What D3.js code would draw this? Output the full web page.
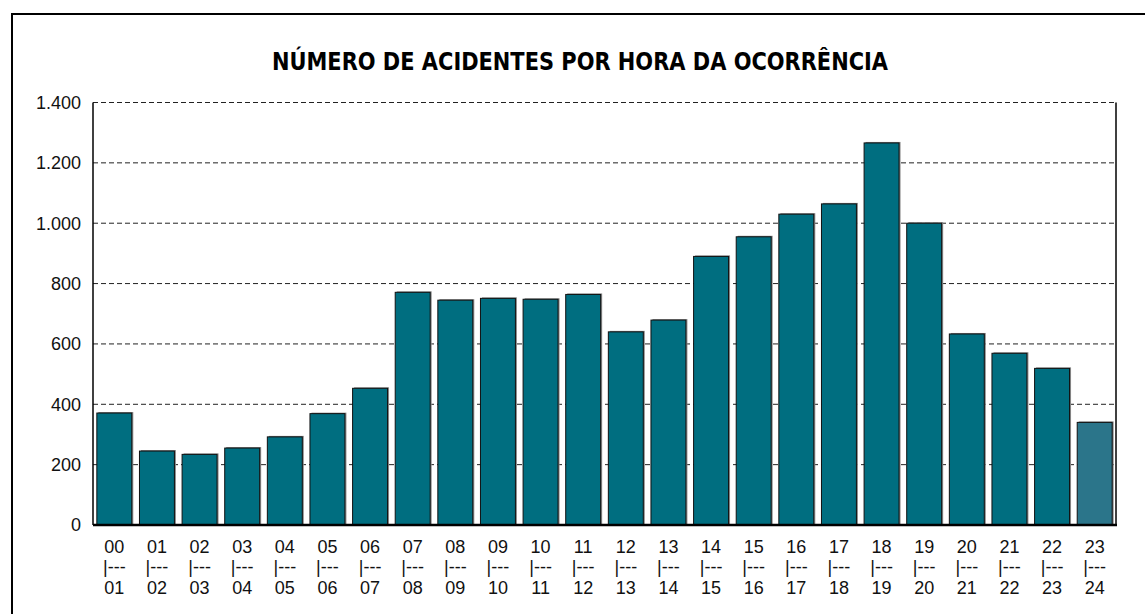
<!DOCTYPE html>
<html>
<head>
  <meta charset="UTF-8">
  <style>
    body {
      margin: 0;
      overflow: hidden;
      background-color: #fff;
      font-family: "Liberation Sans", Arial, sans-serif;
    }
    svg { display: block; }
  </style>
</head>
<body>

<svg></svg>

<script src="https://d3js.org/d3.v7.min.js"></script>

<script>
let width = 1145, height = 614;

// hour ranges and number of accidents
let hourStart = ["00","01","02","03","04","05","06","07","08","09","10","11",
                 "12","13","14","15","16","17","18","19","20","21","22","23"];
let hourEnd   = ["01","02","03","04","05","06","07","08","09","10","11","12",
                 "13","14","15","16","17","18","19","20","21","22","23","24"];
let accidents = [371, 245, 234, 255, 292, 369, 453, 771, 745, 751, 748, 764,
                 640, 679, 890, 955, 1030, 1064, 1266, 1000, 633, 569, 519, 340];
let yTicks = [0, 200, 400, 600, 800, 1000, 1200, 1400];
let title = "NÚMERO DE ACIDENTES POR HORA DA OCORRÊNCIA";

let svg = d3.select("svg")
    .attr("width", width)
    .attr("height", height);

// outer frame: only left and top edges are visible in the picture
svg.append("line")
    .attr("x1", 12).attr("x2", 12)
    .attr("y1", 13).attr("y2", height)
    .attr("stroke", "#000").attr("stroke-width", 2);
svg.append("line")
    .attr("x1", 11).attr("x2", width)
    .attr("y1", 14).attr("y2", 14)
    .attr("stroke", "#000").attr("stroke-width", 2);

let plotL = 93, plotR = 1116, plotT = 102.5, plotB = 525;

let x = d3.scaleBand()
    .domain(hourStart)
    .range([plotL, plotR])
    .paddingInner(0.18)
    .paddingOuter(0.09);

let y = d3.scaleLinear()
    .domain([0, 1400])
    .range([plotB, plotT]);

// title
svg.append("text")
    .attr("x", 580)
    .attr("y", 70)
    .attr("text-anchor", "middle")
    .attr("font-family", "'Liberation Sans Narrow', 'DejaVu Sans Condensed', 'Liberation Sans', sans-serif")
    .attr("font-weight", "bold")
    .attr("font-size", 24)
    .attr("textLength", 616)
    .attr("lengthAdjust", "spacingAndGlyphs")
    .text(title);

// dashed gridlines
svg.append("g")
    .selectAll("line")
    .data(yTicks.filter(d => d > 0))
    .enter()
    .append("line")
    .attr("x1", plotL).attr("x2", plotR)
    .attr("y1", d => y(d)).attr("y2", d => y(d))
    .attr("stroke", "#222")
    .attr("stroke-width", 1)
    .attr("stroke-dasharray", "5,3");

// y tick labels
svg.append("g")
    .selectAll("text")
    .data(yTicks)
    .enter()
    .append("text")
    .attr("x", 81)
    .attr("y", d => y(d))
    .attr("dy", "0.35em")
    .attr("text-anchor", "end")
    .attr("font-size", 18)
    .attr("fill", "#111")
    .text(d => d3.format(",")(d).replace(/,/g, "."));

// bars, with a faint grey shadow like the original
let bars = svg.append("g");
bars.selectAll("rect.shadow")
    .data(accidents)
    .enter()
    .append("rect")
    .attr("class", "shadow")
    .attr("x", (d, i) => x(hourStart[i]) + 1.5)
    .attr("y", d => y(d) - 1)
    .attr("width", x.bandwidth())
    .attr("height", d => plotB - y(d))
    .attr("fill", "#888");
bars.selectAll("rect.bar")
    .data(accidents)
    .enter()
    .append("rect")
    .attr("class", "bar")
    .attr("x", (d, i) => x(hourStart[i]))
    .attr("y", d => y(d))
    .attr("width", x.bandwidth())
    .attr("height", d => plotB - y(d))
    .attr("fill", (d, i) => i === accidents.length - 1 ? "#2b758a" : "#006e80")
    .attr("stroke", "#111")
    .attr("stroke-width", 1);

// plot frame: left and right solid, bottom heavier
svg.append("line")
    .attr("x1", plotL).attr("x2", plotL)
    .attr("y1", plotT).attr("y2", plotB)
    .attr("stroke", "#000").attr("stroke-width", 1.5);
svg.append("line")
    .attr("x1", plotR).attr("x2", plotR)
    .attr("y1", plotT).attr("y2", plotB)
    .attr("stroke", "#000").attr("stroke-width", 1.5);
svg.append("line")
    .attr("x1", plotL).attr("x2", plotR + 1)
    .attr("y1", plotB).attr("y2", plotB)
    .attr("stroke", "#000").attr("stroke-width", 2.5);

// x labels, three lines each
let xl = svg.append("g")
    .selectAll("g")
    .data(hourStart)
    .enter()
    .append("g")
    .attr("transform", d => "translate(" + (x(d) + x.bandwidth() / 2) + ",0)");

xl.append("text")
    .attr("y", 553)
    .attr("text-anchor", "middle")
    .attr("font-size", 18)
    .attr("fill", "#111")
    .text(d => d);
xl.append("text")
    .attr("y", 573)
    .attr("text-anchor", "middle")
    .attr("font-size", 18)
    .attr("fill", "#111")
    .text("|---");
xl.append("text")
    .attr("y", 594)
    .attr("text-anchor", "middle")
    .attr("font-size", 18)
    .attr("fill", "#111")
    .text((d, i) => hourEnd[i]);
</script>

</body>
</html>
